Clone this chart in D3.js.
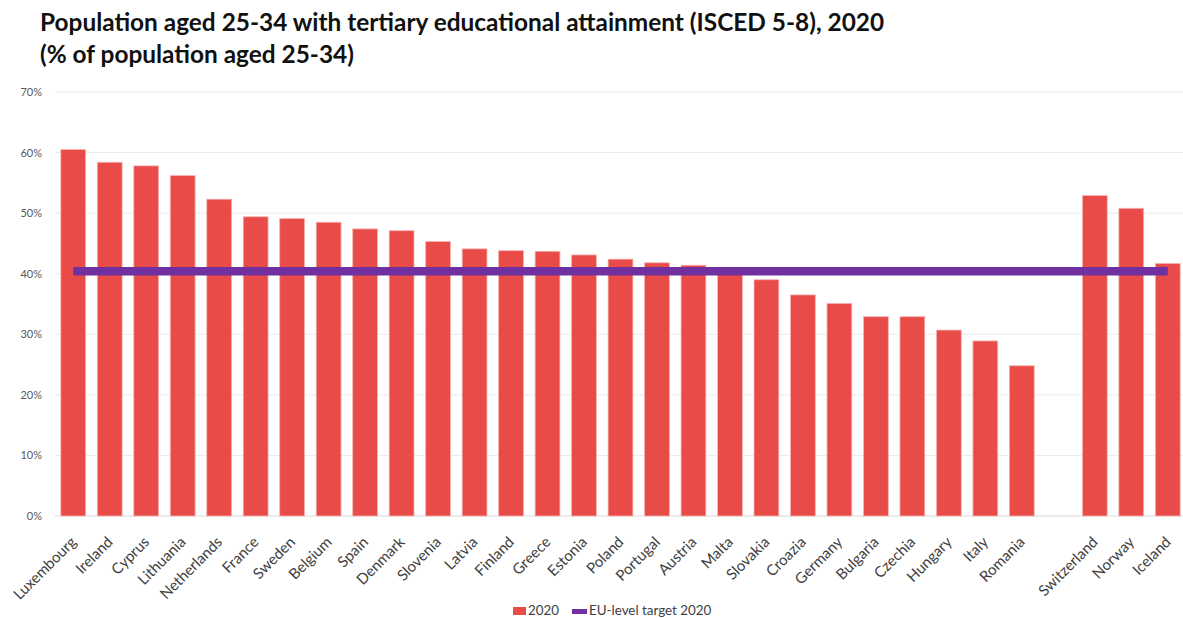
<!DOCTYPE html>
<html lang="en">
<head>
<meta charset="UTF-8">
<title>Tertiary attainment 2020</title>
<script src="https://cdn.jsdelivr.net/npm/d3@7"></script>
<style>
  body { margin: 0; background: #fff; }
  svg text { font-family: Lato, "Open Sans", sans-serif; }
</style>
</head>
<body>
<script>
// data
var countries = ['Luxembourg', 'Ireland', 'Cyprus', 'Lithuania', 'Netherlands', 'France', 'Sweden',
  'Belgium', 'Spain', 'Denmark', 'Slovenia', 'Latvia', 'Finland', 'Greece', 'Estonia', 'Poland',
  'Portugal', 'Austria', 'Malta', 'Slovakia', 'Croazia', 'Germany', 'Bulgaria', 'Czechia', 'Hungary',
  'Italy', 'Romania', '', 'Switzerland', 'Norway', 'Iceland'];
var values2020 = [60.5, 58.4, 57.8, 56.2, 52.3, 49.4, 49.1, 48.5, 47.4, 47.1, 45.3, 44.1, 43.8, 43.7,
  43.1, 42.4, 41.8, 41.4, 40.8, 39.0, 36.5, 35.1, 32.9, 32.9, 30.7, 28.9, 24.8, null, 52.9, 50.8, 41.7];
var euTarget = 40.4;
var yTicks = [0, 10, 20, 30, 40, 50, 60, 70];
var titleLines = ['Population aged 25-34 with tertiary educational attainment (ISCED 5-8), 2020',
  '(% of population aged 25-34)'];

var W = 1183, H = 618;
var plot = { left: 55, right: 1186, top: 92, bottom: 516 };

var svg = d3.select('body').append('svg')
  .attr('width', W)
  .attr('height', H);

var x = d3.scaleBand()
  .domain(d3.range(countries.length))
  .range([plot.left, plot.right])
  .paddingInner(0.32)
  .paddingOuter(0.16);

var y = d3.scaleLinear()
  .domain([0, 70])
  .range([plot.bottom, plot.top]);

// gridlines
svg.append('g')
  .selectAll('line')
  .data(yTicks)
  .enter().append('line')
  .attr('x1', plot.left)
  .attr('x2', W)
  .attr('y1', d => y(d))
  .attr('y2', d => y(d))
  .style('stroke', d => d === 0 ? '#d9d9d9' : '#ebebeb')
  .style('stroke-width', 1);

// y axis labels
var yAxis = svg.append('g')
  .attr('transform', `translate(${plot.left - 13},0)`)
  .call(d3.axisLeft(y).tickValues(yTicks).tickFormat(d => d + '%').tickSize(0));
yAxis.select('.domain').remove();
yAxis.selectAll('text')
  .style('font-size', '11px')
  .style('fill', '#595959')
  .attr('x', 0);

// bars
var rows = countries.map((c, i) => ({ i: i, name: c, v: values2020[i] })).filter(d => d.v != null);

svg.append('g')
  .selectAll('rect')
  .data(rows)
  .enter().append('rect')
  .attr('x', d => x(d.i))
  .attr('y', d => y(d.v))
  .attr('width', x.bandwidth())
  .attr('height', d => y(0) - y(d.v))
  .style('fill', '#e84b48')
  .style('stroke', '#f5b3b1')
  .style('stroke-width', 0.8);

// EU target line
var first = 0, last = countries.length - 1;
svg.append('line')
  .attr('x1', x(first) + x.bandwidth() / 2)
  .attr('x2', x(last) + x.bandwidth() / 2)
  .attr('y1', y(euTarget))
  .attr('y2', y(euTarget))
  .style('stroke', '#7030a0')
  .style('stroke-width', 8.5);

// category labels
svg.append('g')
  .selectAll('text')
  .data(rows)
  .enter().append('text')
  .text(d => d.name)
  .attr('text-anchor', 'end')
  .attr('transform', d => `translate(${x(d.i) + x.bandwidth() / 2 + 4},${plot.bottom + 27}) rotate(-45)`)
  .style('font-size', '15px')
  .style('fill', '#404040');

// title
svg.append('g')
  .selectAll('text')
  .data(titleLines)
  .enter().append('text')
  .text(d => d)
  .attr('x', 40)
  .attr('y', (d, i) => 31 + i * 32)
  .style('font-size', '24.4px')
  .style('font-weight', 'bold')
  .style('fill', '#111');

// legend
var legend = svg.append('g');
legend.append('rect')
  .attr('x', 513).attr('y', 607)
  .attr('width', 13).attr('height', 8)
  .style('fill', '#e84b48');
legend.append('text')
  .text('2020')
  .attr('x', 528).attr('y', 615)
  .style('font-size', '13.4px')
  .style('fill', '#404040');
legend.append('rect')
  .attr('x', 572).attr('y', 609)
  .attr('width', 15).attr('height', 5)
  .style('fill', '#7030a0');
legend.append('text')
  .text('EU-level target 2020')
  .attr('x', 589).attr('y', 615)
  .style('font-size', '13.4px')
  .style('fill', '#404040');
</script>
</body>
</html>
